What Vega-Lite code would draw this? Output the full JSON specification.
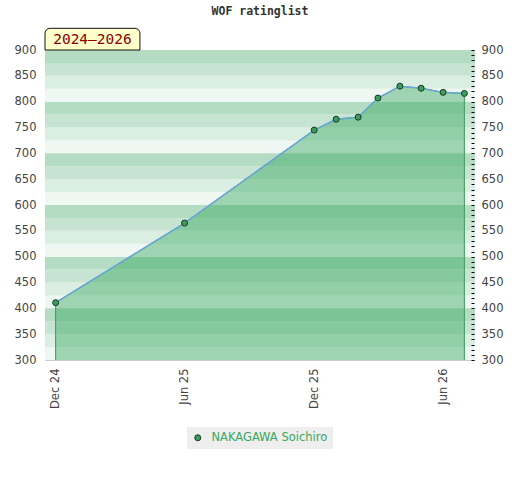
{
  "$schema": "https://vega.github.io/schema/vega-lite/v6.json",
  "autosize": "none",
  "width": 430,
  "height": 310,
  "padding": {"left": 45, "top": 50, "right": 45, "bottom": 120},
  "background": "white",
  "title": {
    "text": "WOF ratinglist",
    "font": "DejaVu Sans Mono",
    "fontSize": 11.5,
    "fontWeight": "bold",
    "color": "#333333",
    "anchor": "middle",
    "offset": 10
  },
  "datasets": {
    "ratings": [
      {"date": 1733011200000, "rating": 411, "player": "NAKAGAWA Soichiro"},
      {"date": 1748736000000, "rating": 565, "player": "NAKAGAWA Soichiro"},
      {"date": 1764547200000, "rating": 745, "player": "NAKAGAWA Soichiro"},
      {"date": 1767225600000, "rating": 766, "player": "NAKAGAWA Soichiro"},
      {"date": 1769904000000, "rating": 770, "player": "NAKAGAWA Soichiro"},
      {"date": 1772323200000, "rating": 807, "player": "NAKAGAWA Soichiro"},
      {"date": 1775001600000, "rating": 830, "player": "NAKAGAWA Soichiro"},
      {"date": 1777593600000, "rating": 826, "player": "NAKAGAWA Soichiro"},
      {"date": 1780272000000, "rating": 818, "player": "NAKAGAWA Soichiro"},
      {"date": 1782864000000, "rating": 816, "player": "NAKAGAWA Soichiro"}
    ],
    "bands": [
      {"lo": 300, "hi": 325, "band": "a"}, {"lo": 325, "hi": 350, "band": "b"},
      {"lo": 350, "hi": 375, "band": "c"}, {"lo": 375, "hi": 400, "band": "d"},
      {"lo": 400, "hi": 425, "band": "a"}, {"lo": 425, "hi": 450, "band": "b"},
      {"lo": 450, "hi": 475, "band": "c"}, {"lo": 475, "hi": 500, "band": "d"},
      {"lo": 500, "hi": 525, "band": "a"}, {"lo": 525, "hi": 550, "band": "b"},
      {"lo": 550, "hi": 575, "band": "c"}, {"lo": 575, "hi": 600, "band": "d"},
      {"lo": 600, "hi": 625, "band": "a"}, {"lo": 625, "hi": 650, "band": "b"},
      {"lo": 650, "hi": 675, "band": "c"}, {"lo": 675, "hi": 700, "band": "d"},
      {"lo": 700, "hi": 725, "band": "a"}, {"lo": 725, "hi": 750, "band": "b"},
      {"lo": 750, "hi": 775, "band": "c"}, {"lo": 775, "hi": 800, "band": "d"},
      {"lo": 800, "hi": 825, "band": "a"}, {"lo": 825, "hi": 850, "band": "b"},
      {"lo": 850, "hi": 875, "band": "c"}, {"lo": 875, "hi": 900, "band": "d"}
    ],
    "caption": [{"label": "2024–2026"}]
  },
  "resolve": {"axis": {"y": "independent"}},
  "layer": [
    {
      "data": {"name": "bands"},
      "mark": {"type": "rect"},
      "encoding": {
        "y": {
          "field": "lo", "type": "quantitative",
          "scale": {"domain": [300, 900], "nice": false, "zero": false},
          "axis": {
            "orient": "left",
            "values": [300, 350, 400, 450, 500, 550, 600, 650, 700, 750, 800, 850, 900],
            "title": null,
            "ticks": false,
            "domainColor": "#cccccc",
            "labelFont": "DejaVu Sans",
            "labelFontSize": 11.5,
            "labelColor": "#444444",
            "labelPadding": 9,
            "grid": true,
            "gridColor": {"condition": {"test": "datum.value % 100 == 0", "value": "#d8d8d8"}, "value": "transparent"}
          }
        },
        "y2": {"field": "hi"},
        "fill": {
          "field": "band", "type": "nominal",
          "scale": {"domain": ["a", "b", "c", "d"], "range": ["#eff7f2", "#dbeee2", "#c7e4d2", "#b3dcc2"]},
          "legend": null
        }
      }
    },
    {
      "data": {"name": "ratings"},
      "mark": {"type": "area", "clip": true, "fill": "#27a052", "fillOpacity": 0.4, "stroke": "#3a9a5a", "strokeWidth": 1},
      "encoding": {
        "x": {
          "field": "date", "type": "temporal",
          "scale": {"type": "utc", "domain": [1731715200000, 1784160000000]},
          "axis": {
            "values": [1733011200000, 1748736000000, 1764547200000, 1780272000000],
            "format": "%b %y",
            "title": null,
            "grid": false,
            "ticks": false,
            "domainColor": "#cccccc",
            "labelAngle": -90,
            "labelAlign": "right",
            "labelBaseline": "middle",
            "labelFont": "DejaVu Sans",
            "labelFontSize": 11.5,
            "labelColor": "#444444",
            "labelPadding": 8
          }
        },
        "y": {"field": "rating", "type": "quantitative", "axis": null},
        "y2": {"datum": 280}
      }
    },
    {
      "data": {"name": "ratings"},
      "mark": {"type": "line", "color": "#68a4da", "strokeWidth": 1.5},
      "encoding": {
        "x": {"field": "date", "type": "temporal"},
        "y": {
          "field": "rating", "type": "quantitative",
          "axis": {
            "orient": "right",
            "offset": -4,
            "zindex": 1,
            "values": [300, 310, 320, 330, 340, 350, 360, 370, 380, 390, 400, 410, 420, 430, 440, 450, 460, 470, 480, 490, 500, 510, 520, 530, 540, 550, 560, 570, 580, 590, 600, 610, 620, 630, 640, 650, 660, 670, 680, 690, 700, 710, 720, 730, 740, 750, 760, 770, 780, 790, 800, 810, 820, 830, 840, 850, 860, 870, 880, 890, 900],
            "labelExpr": "datum.value % 50 == 0 ? datum.label : ''",
            "title": null,
            "domain": false,
            "grid": false,
            "tickColor": "#000000",
            "tickWidth": 1,
            "tickSize": 3,
            "labelFont": "DejaVu Sans",
            "labelFontSize": 11.5,
            "labelColor": "#444444",
            "labelPadding": 7,
            "labelOverlap": false
          }
        }
      }
    },
    {
      "data": {"name": "ratings"},
      "mark": {"type": "point", "filled": true, "size": 36, "stroke": "#1b3b25", "strokeWidth": 1, "opacity": 1},
      "encoding": {
        "x": {"field": "date", "type": "temporal"},
        "y": {"field": "rating", "type": "quantitative", "axis": null},
        "color": {
          "field": "player", "type": "nominal",
          "scale": {"range": ["#3a9d5d"]},
          "legend": {
            "orient": "none",
            "legendX": 142,
            "legendY": 377,
            "direction": "horizontal",
            "title": null,
            "fillColor": "#eeeeee",
            "padding": 5,
            "symbolType": "circle",
            "symbolSize": 36,
            "symbolStrokeColor": "#1b3b25",
            "symbolStrokeWidth": 1,
            "labelFont": "DejaVu Sans",
            "labelFontSize": 11.5,
            "labelColor": "#3aa860",
            "labelOffset": 8
          }
        }
      }
    },
    {
      "data": {"name": "caption"},
      "mark": {"type": "rect", "clip": false, "fill": "#ffffcc", "stroke": "#111111", "strokeWidth": 1, "cornerRadiusTopLeft": 5, "cornerRadiusTopRight": 5},
      "encoding": {
        "x": {"datum": 1731715200000, "type": "temporal"},
        "x2": {"datum": 1743292800000},
        "y": {"datum": 900, "type": "quantitative", "axis": null},
        "y2": {"datum": 942}
      }
    },
    {
      "data": {"name": "caption"},
      "mark": {"type": "text", "clip": false, "font": "DejaVu Sans Mono", "fontSize": 14.5, "color": "#8b0000", "align": "center", "baseline": "middle"},
      "encoding": {
        "x": {"datum": 1737504000000, "type": "temporal"},
        "y": {"datum": 920, "type": "quantitative", "axis": null},
        "text": {"field": "label"}
      }
    }
  ],
  "config": {"view": {"stroke": null}}
}
